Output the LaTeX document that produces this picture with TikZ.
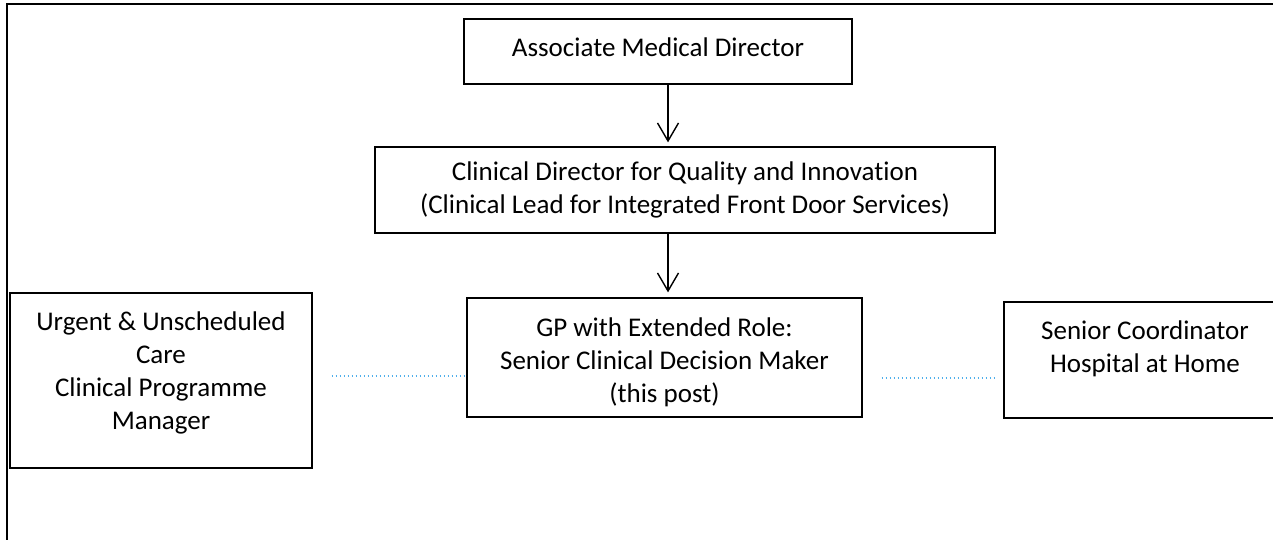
\documentclass[tikz,border=0pt]{standalone}
\usepackage{fontspec}
\setmainfont{Carlito}[Ligatures={NoCommon}]
\usetikzlibrary{arrows.meta}
\definecolor{reldot}{RGB}{80,175,235}
\begin{document}
\begin{tikzpicture}[x=1pt,y=-1pt,
  box/.style={draw=black,line width=1.3pt,inner sep=0pt,minimum width=#1},
  txt/.style={align=center,inner sep=0pt,font=\fontsize{27}{33}\selectfont},
  arr/.style={line width=1.4pt,-{Straight Barb[length=18pt,width=21pt,line width=1.4pt]}},
  rel/.style={draw=reldot,line width=1.8pt,dash pattern=on 1.8pt off 2.2pt},
  frame/.style={line width=1.7pt,line cap=rect}]
\useasboundingbox (0,0) rectangle (1273,539);
\clip (0,0) rectangle (1273,539);
% outer frame
\coordinate (fbl) at (7,545);
\coordinate (ftl) at (7,4);
\coordinate (ftr) at (1280,4);
\draw[frame] (fbl) -- (ftl) -- (ftr);
% boxes
\node[box=388pt,minimum height=65pt] (b1) at (658,51.5) {};
\node[box=620pt,minimum height=86pt] (b2) at (685,190) {};
\node[box=395pt,minimum height=119pt] (b3) at (664.5,357.5) {};
\node[box=302pt,minimum height=175pt] (lb) at (161,380.5) {};
\node[box=282pt,minimum height=116pt] (rb) at (1145,360) {};
% texts
\node[txt] (t1) at (658,47) {Associate Medical Director};
\node[txt] (t2) at (685,190) {Clinical Director for Quality and Innovation\\(Clinical Lead for Integrated Front Door Services)};
\node[txt] (t3) at (664.5,362) {GP with Extended Role:\\Senior Clinical Decision Maker\\(this post)};
\node[txt] (tl) at (161,373) {Urgent \& Unscheduled\\Care\\Clinical Programme\\Manager};
\node[txt] (tr) at (1145,349) {Senior Coordinator\\Hospital at Home};
% connectors
\coordinate (xa) at (668,0);
\draw[arr,shorten >=4pt] (b1.south -| xa) -- (b2.north -| xa);
\draw[arr,shorten >=5pt] (b2.south -| xa) -- (b3.north -| xa);
\coordinate (yl) at (0,376);
\coordinate (yr) at (0,378);
\draw[rel,shorten <=19pt] (lb.east |- yl) -- (b3.west |- yl);
\draw[rel,shorten <=19pt,shorten >=6pt] (b3.east |- yr) -- (rb.west |- yr);
\end{tikzpicture}
\end{document}
